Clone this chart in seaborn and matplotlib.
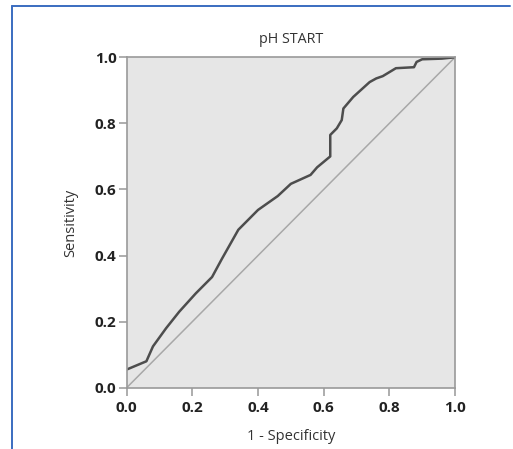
import pandas as pd
import matplotlib.pyplot as plt
import seaborn as sns
from matplotlib.lines import Line2D

# ROC curve points
fpr = [0.0, 0.06, 0.08, 0.12, 0.16, 0.21, 0.26, 0.29, 0.34, 0.40, 0.46,
       0.50, 0.56, 0.58, 0.62, 0.62, 0.64, 0.655, 0.66, 0.69, 0.74, 0.76,
       0.78, 0.82, 0.875, 0.883, 0.90, 0.96, 1.0]
tpr = [0.055, 0.08, 0.125, 0.18, 0.23, 0.285, 0.335, 0.39, 0.478, 0.538, 0.58,
       0.617, 0.644, 0.667, 0.70, 0.765, 0.785, 0.81, 0.845, 0.88, 0.925, 0.936,
       0.943, 0.967, 0.970, 0.986, 0.994, 0.996, 1.0]
ref_line = [0.0, 1.0]
ticks = [0.0, 0.2, 0.4, 0.6, 0.8, 1.0]

roc_df = pd.DataFrame({"fpr": fpr, "tpr": tpr})
diag_df = pd.DataFrame({"x": ref_line, "y": ref_line})

sns.set_style("white")
plt.rcParams['font.family'] = ['Open Sans', 'DejaVu Sans']

fig = plt.figure(figsize=(5.13, 4.49), dpi=100)
ax = fig.add_axes([126.7 / 513, 1 - 387.7 / 449, 328.3 / 513, 330.4 / 449])
ax.set_facecolor("#e6e6e6")

sns.lineplot(data=diag_df, x="x", y="y", ax=ax, color="#a8a8a8", linewidth=1.1)
sns.lineplot(data=roc_df, x="fpr", y="tpr", ax=ax, color="#4d4d4d", linewidth=1.8,
             sort=False, estimator=None)

ax.set_xlim(0, 1)
ax.set_ylim(0, 1)
ax.set_xticks(ticks)
ax.set_yticks(ticks)
ax.set_xticklabels([f"{t:.1f}" for t in ticks], fontweight="bold", fontsize=11, color="#222222")
ax.set_yticklabels([f"{t:.1f}" for t in ticks], fontweight="bold", fontsize=11, color="#222222")
ax.tick_params(axis="both", direction="out", length=5.8, width=1.2, color="#a0a0a0",
               left=True, bottom=True)
ax.tick_params(axis="x", pad=4)
ax.tick_params(axis="y", pad=1.5)
for sp in ax.spines.values():
    sp.set_color("#9a9a9a")
    sp.set_linewidth(1.2)

ax.set_xlabel("1 - Specificity", fontsize=10.5, color="#333333", labelpad=10)
ax.set_ylabel("Sensitivity", fontsize=10.5, color="#333333", labelpad=12)
ax.set_title("pH START", fontsize=10.3, color="#333333", pad=10)

# blue frame lines at top and left
fig.add_artist(Line2D([12 / 513, 12 / 513], [0, 1 - 6 / 449], color="#3a6cc0", linewidth=1.4))
fig.add_artist(Line2D([12 / 513, 510 / 513], [1 - 6 / 449, 1 - 6 / 449], color="#3a6cc0", linewidth=1.4))

fig.savefig("out.png", dpi=100)
